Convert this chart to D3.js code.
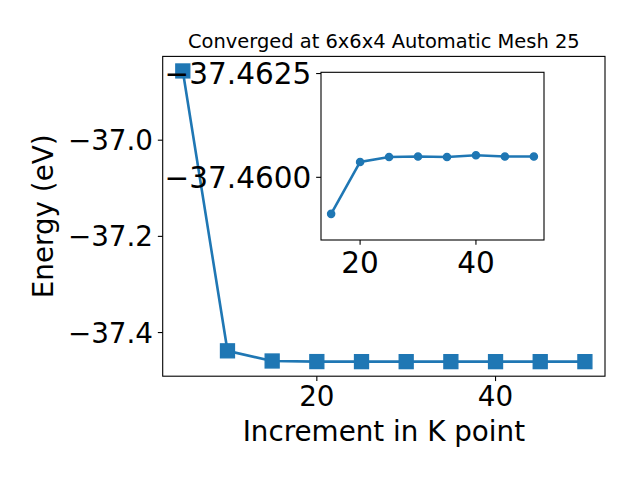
<!DOCTYPE html>
<html><head><meta charset="utf-8">
<script src="https://cdn.jsdelivr.net/npm/d3@7"></script>
<style>body{margin:0;background:#fff;} svg{display:block;} text{font-family:"DejaVu Sans",sans-serif;fill:#000;}</style>
</head><body>
<svg id="c" width="640" height="480"></svg>
<script>
const kpoints = [5, 10, 15, 20, 25, 30, 35, 40, 45, 50];
const energies = [-36.856, -37.438, -37.45912, -37.46037, -37.46049, -37.46050, -37.46049, -37.46053, -37.46050, -37.46050];
const mainXTicks = [20, 40];
const mainYTicks = [-37.0, -37.2, -37.4];
const insetXTicks = [20, 40];
const insetYTicks = [-37.4625, -37.4600];
const insetYDomain = [-37.46253, -37.45849];
const titleText = "Converged at 6x6x4 Automatic Mesh 25";
const xLabel = "Increment in K point";
const yLabel = "Energy (eV)";

const color = "#1f77b4";
const svg = d3.select("#c");
const FS = 27.78, IFS = 29.5, TL = 4.86, PAD = 4.86, SW = 1.1, LW = 2.6;

// main axes
const M = {l:162.7, r:605, t:56.4, b:376.2};
const xr = d3.extent(kpoints), xm = (xr[1]-xr[0])*0.05;
const yr = d3.extent(energies), ym = (yr[1]-yr[0])*0.05;
const x = d3.scaleLinear().domain([xr[0]-xm, xr[1]+xm]).range([M.l, M.r]);
const y = d3.scaleLinear().domain([yr[0]-ym, yr[1]+ym]).range([M.b, M.t]);
const data = kpoints.map((k,i)=>({k, e:energies[i]}));

const g = svg.append("g");
g.append("rect").attr("x",M.l).attr("y",M.t).attr("width",M.r-M.l).attr("height",M.b-M.t).attr("fill","#fff");
g.append("path").datum(data).attr("fill","none").attr("stroke",color).attr("stroke-width",LW)
 .attr("d", d3.line().x(d=>x(d.k)).y(d=>y(d.e)));
const ms = 13.9;
g.selectAll("rect.m").data(data).join("rect").attr("class","m")
 .attr("x",d=>x(d.k)-ms/2).attr("y",d=>y(d.e)-ms/2).attr("width",ms).attr("height",ms)
 .attr("fill",color).attr("stroke",color).attr("stroke-width",1.39);
g.append("rect").attr("x",M.l).attr("y",M.t).attr("width",M.r-M.l).attr("height",M.b-M.t)
 .attr("fill","none").attr("stroke","#000").attr("stroke-width",SW);
// main ticks
mainXTicks.forEach(t=>{
  g.append("line").attr("x1",x(t)).attr("x2",x(t)).attr("y1",M.b).attr("y2",M.b+TL).attr("stroke","#000").attr("stroke-width",SW);
  g.append("text").attr("x",x(t)).attr("y",M.b+30).attr("text-anchor","middle").attr("font-size",FS).text(d3.format("d")(t));
});
mainYTicks.forEach(t=>{
  g.append("line").attr("x1",M.l-TL).attr("x2",M.l).attr("y1",y(t)).attr("y2",y(t)).attr("stroke","#000").attr("stroke-width",SW);
  g.append("text").attr("x",M.l-TL-PAD).attr("y",y(t)+10).attr("text-anchor","end").attr("font-size",FS).text(d3.format(".1f")(t));
});
g.append("text").attr("x",(M.l+M.r)/2).attr("y",48).attr("text-anchor","middle").attr("font-size",19.44).text(titleText);
g.append("text").attr("x",(M.l+M.r)/2).attr("y",441.3).attr("text-anchor","middle").attr("font-size",FS).text(xLabel);
g.append("text").attr("transform",`translate(53.3,${(M.t+M.b)/2}) rotate(-90)`).attr("text-anchor","middle").attr("font-size",FS).text(yLabel);

// inset axes
const I = {l:321, r:544, t:72.3, b:240};
const ik = kpoints.slice(2), ie = energies.slice(2);
const ixr = d3.extent(ik), ixm = (ixr[1]-ixr[0])*0.05;
const ix = d3.scaleLinear().domain([ixr[0]-ixm, ixr[1]+ixm]).range([I.l, I.r]);
const iy = d3.scaleLinear().domain(insetYDomain).range([I.t, I.b]);
const idata = ik.map((k,i)=>({k, e:ie[i]}));
const h = svg.append("g");
h.append("rect").attr("x",I.l).attr("y",I.t).attr("width",I.r-I.l).attr("height",I.b-I.t).attr("fill","#fff");
h.append("path").datum(idata).attr("fill","none").attr("stroke",color).attr("stroke-width",LW)
 .attr("d", d3.line().x(d=>ix(d.k)).y(d=>iy(d.e)));
h.selectAll("circle").data(idata).join("circle").attr("cx",d=>ix(d.k)).attr("cy",d=>iy(d.e)).attr("r",3.6)
 .attr("fill",color).attr("stroke",color).attr("stroke-width",1.39);
h.append("rect").attr("x",I.l).attr("y",I.t).attr("width",I.r-I.l).attr("height",I.b-I.t)
 .attr("fill","none").attr("stroke","#000").attr("stroke-width",SW);
insetXTicks.forEach(t=>{
  h.append("line").attr("x1",ix(t)).attr("x2",ix(t)).attr("y1",I.b).attr("y2",I.b+TL).attr("stroke","#000").attr("stroke-width",SW);
  h.append("text").attr("x",ix(t)).attr("y",I.b+33).attr("text-anchor","middle").attr("font-size",IFS).text(d3.format("d")(t));
});
insetYTicks.forEach(t=>{
  h.append("line").attr("x1",I.l-TL).attr("x2",I.l).attr("y1",iy(t)).attr("y2",iy(t)).attr("stroke","#000").attr("stroke-width",SW);
  h.append("text").attr("x",I.l-TL-PAD).attr("y",iy(t)+10.7).attr("text-anchor","end").attr("font-size",IFS).text(d3.format(".4f")(t));
});
</script>
</body></html>
